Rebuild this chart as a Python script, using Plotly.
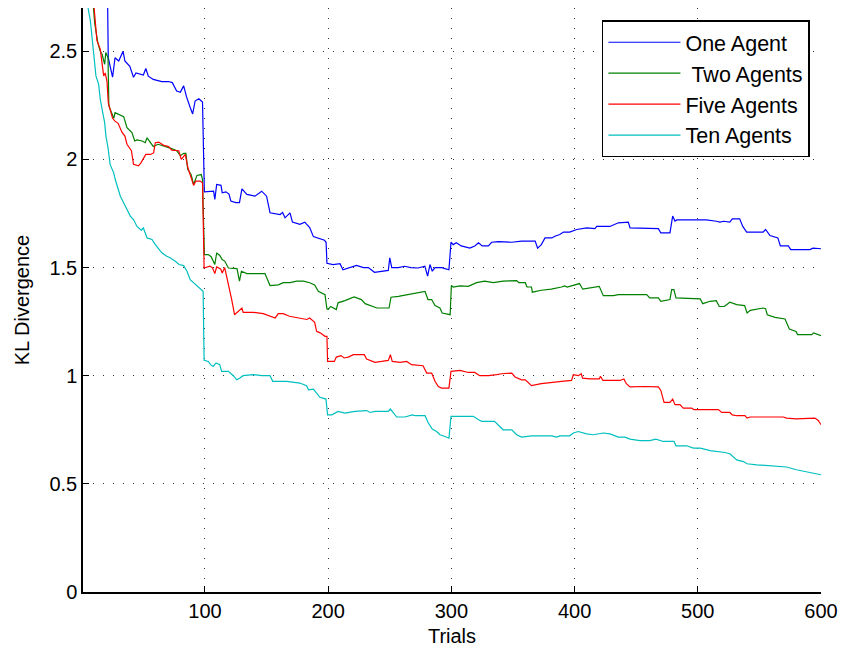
import plotly.graph_objects as go

# Trial numbers and KL divergence for each group size
one_trials = [1, 20, 21.5, 25, 27, 30, 33.5, 35, 39, 42, 44, 50, 52, 54, 58, 65, 70.5, 73.5, 77, 80, 82.7, 85, 88, 90, 92, 95, 98,
              99.5, 107, 108, 109.5, 113, 114, 117, 119.5, 121, 125, 128, 130, 134, 140.6, 146, 150, 152.8, 161, 163, 165, 169,
              171, 177, 181, 185, 188, 193, 197, 198.3, 199, 204, 209.6, 212, 217.6, 223, 228.6, 232.6, 237.6, 240.7, 248.8,
              250, 251.6, 257, 262, 267, 273, 278.5, 280.7, 282.6, 284.5, 286.7, 292, 298, 299.7, 301.5, 304, 308, 315, 319,
              322, 325, 330, 332.7, 338, 349, 357, 368, 370, 373, 376, 381.5, 384, 388, 391, 396, 401.7, 410, 416.5, 418,
              428.7, 435.5, 443.6, 445, 455.8, 468, 470, 477.4, 479.6, 481.5, 483, 507, 515, 518, 521, 526, 528, 534, 536.5,
              539.7, 553, 555, 558.6, 565, 567, 573.5, 575.4, 591, 593.5, 600]
one_kl = [4.8, 3.2, 2.47, 2.38, 2.47, 2.455, 2.50, 2.455, 2.43, 2.38, 2.40, 2.39, 2.42, 2.385, 2.37, 2.36, 2.36, 2.355, 2.316,
          2.31, 2.34, 2.29, 2.24, 2.21, 2.27, 2.28, 2.265,
          1.85, 1.853, 1.815, 1.884, 1.88, 1.846, 1.85, 1.84, 1.807, 1.80, 1.80, 1.864, 1.838, 1.83, 1.853, 1.83, 1.753,
          1.745, 1.755, 1.73, 1.753, 1.71, 1.70, 1.71, 1.685, 1.643, 1.634, 1.626, 1.617, 1.52, 1.514, 1.518, 1.49, 1.50,
          1.51, 1.50, 1.50, 1.478, 1.48, 1.487, 1.545, 1.50, 1.50, 1.506, 1.50, 1.498, 1.506, 1.46, 1.514, 1.483, 1.50,
          1.50, 1.49, 1.617, 1.606, 1.615, 1.60, 1.59, 1.60, 1.614, 1.60, 1.60, 1.617, 1.62, 1.617, 1.622, 1.622, 1.59,
          1.606, 1.637, 1.637, 1.645, 1.653, 1.664, 1.664, 1.676, 1.683, 1.68, 1.69, 1.69, 1.707, 1.71, 1.683, 1.683,
          1.68, 1.66, 1.66, 1.738, 1.715, 1.72, 1.72, 1.714, 1.71, 1.714, 1.71, 1.725, 1.725, 1.69, 1.664, 1.664, 1.676,
          1.648, 1.637, 1.60, 1.60, 1.583, 1.583, 1.59, 1.587]

two_trials = [1, 9.6, 10.5, 13, 15, 16.5, 18.6, 19.5, 21.3, 22, 24, 26, 27, 30, 34, 36.7, 40.7, 43, 44.8, 49, 51.5, 53, 55.7,
              58, 62, 69, 73, 77, 80, 82.7, 84.5, 86, 88.7, 90.8, 93.5, 97, 98, 99.5, 102.7, 105, 108, 109.5, 112, 114, 116,
              119, 123, 126, 128, 129.6, 134, 148.7, 152.8, 159.5, 163.6, 169, 174.4, 180, 185, 189, 192, 197.4, 199, 200,
              202, 205, 206.6, 208, 213.6, 221, 227, 230, 237.5, 239.5, 249.4, 251, 257, 268, 278.6, 281, 284, 286.7, 290.7,
              292.5, 297, 299, 300, 301.5, 307, 313.7, 320.5, 327, 334, 342, 353, 354.7, 360, 361.4, 365, 365.7, 373, 381,
              389.5, 392, 394, 404, 406.6, 412.5, 420, 423.3, 431.4, 435.6, 458.5, 461, 468, 470, 477.4, 478.8, 480.6, 482.3,
              502, 504, 510, 515, 517.4, 521.5, 526, 531.6, 538, 540, 542.6, 553, 555, 556.4, 562.7, 570.8, 574.3, 579.7,
              581, 592.5, 594, 600]
two_kl = [3.3, 2.72, 2.63, 2.54, 2.50, 2.486, 2.44, 2.494, 2.47, 2.247, 2.216, 2.19, 2.216, 2.208, 2.198, 2.147, 2.124, 2.085,
          2.09, 2.085, 2.077, 2.10, 2.077, 2.06, 2.07, 2.059, 2.05, 2.04, 2.017, 2.028, 2.028, 1.954, 1.93, 1.884, 1.926,
          1.93, 1.907, 1.56, 1.56, 1.55, 1.514, 1.568, 1.556, 1.537, 1.53, 1.498, 1.495, 1.495, 1.437, 1.483, 1.472, 1.472,
          1.417, 1.42, 1.43, 1.43, 1.437, 1.437, 1.43, 1.42, 1.39, 1.375, 1.309, 1.306, 1.32, 1.309, 1.306, 1.337, 1.347,
          1.364, 1.352, 1.333, 1.32, 1.313, 1.313, 1.363, 1.367, 1.378, 1.39, 1.352, 1.352, 1.324, 1.313, 1.29, 1.282,
          1.282, 1.417, 1.41, 1.415, 1.413, 1.43, 1.437, 1.43, 1.437, 1.44, 1.43, 1.43, 1.41, 1.41, 1.386, 1.395, 1.40,
          1.41, 1.415, 1.41, 1.426, 1.40, 1.406, 1.413, 1.37, 1.37, 1.375, 1.375, 1.36, 1.36, 1.344, 1.352, 1.398, 1.398,
          1.36, 1.355, 1.333, 1.344, 1.347, 1.32, 1.32, 1.34, 1.329, 1.324, 1.29, 1.302, 1.313, 1.31, 1.282, 1.27, 1.262,
          1.216, 1.205, 1.19, 1.19, 1.198, 1.185]

five_trials = [1, 9.6, 11, 12.3, 15, 17.8, 19, 20.5, 21.5, 23, 25, 27, 29.5, 32.6, 35, 36.7, 40.3, 42, 46, 48, 50, 52, 55.7,
               58.3, 59.7, 62.4, 66.5, 70.5, 73, 75.9, 78.7, 80.8, 84, 86.2, 89, 90.8, 92.6, 96, 98, 99.3, 104, 106, 108,
               109.5, 112.7, 114, 116, 118, 121.7, 124, 127, 130, 131, 139, 147.3, 154, 157, 159.5, 163.5, 168.5, 177, 182.6,
               185, 189, 190.6, 193.5, 197.4, 199, 199.5, 205, 206.6, 210.4, 213, 216.3, 220.4, 229.3, 231.2, 238, 243.4,
               248.8, 250.5, 252, 258.3, 263.7, 267.7, 277, 280, 284, 286.7, 289.4, 292, 298, 299.7, 307, 313.7, 319, 323,
               330, 336.8, 340.8, 349, 351.7, 357, 360, 365, 373, 389.5, 397.5, 399, 403, 405.4, 406.5, 412.5, 420, 421, 423,
               436.9, 440, 442, 445, 457, 468, 470, 472.6, 477.4, 479.6, 481.5, 485.5, 488.2, 495, 497, 516.7, 519.4, 526,
               528, 531.6, 538.3, 540, 542.4, 569.4, 572, 580, 595, 597.8, 600]
five_kl = [3.3, 2.72, 2.63, 2.55, 2.51, 2.386, 2.40, 2.36, 2.262, 2.23, 2.19, 2.177, 2.167, 2.126, 2.108, 2.07, 2.04, 1.977,
           1.97, 1.984, 2.007, 2.023, 2.023, 2.03, 2.077, 2.08, 2.065, 2.059, 2.043, 2.04, 2.04, 2.00, 2.023, 1.96, 1.907,
           1.88, 1.90, 1.90, 1.892, 1.498, 1.506, 1.50, 1.472, 1.503, 1.494, 1.475, 1.50, 1.452, 1.352, 1.282, 1.298,
           1.313, 1.293, 1.293, 1.287, 1.275, 1.267, 1.287, 1.287, 1.275, 1.267, 1.26, 1.267, 1.247, 1.205, 1.198, 1.182,
           1.182, 1.066, 1.066, 1.086, 1.093, 1.082, 1.086, 1.097, 1.097, 1.077, 1.062, 1.066, 1.071, 1.097, 1.066, 1.062,
           1.066, 1.051, 1.046, 1.012, 1.012, 0.974, 0.95, 0.943, 0.943, 1.02, 1.025, 1.015, 1.015, 1.00, 1.00, 1.005,
           1.009, 1.012, 0.994, 0.981, 0.981, 0.954, 0.963, 0.974, 0.978, 1.005, 1.00, 1.009, 0.989, 0.985, 0.985, 0.997,
           0.978, 0.978, 0.985, 0.963, 0.948, 0.95, 0.948, 0.932, 0.877, 0.877, 0.892, 0.866, 0.866, 0.85, 0.85, 0.843,
           0.843, 0.83, 0.83, 0.819, 0.815, 0.815, 0.804, 0.809, 0.809, 0.804, 0.80, 0.804, 0.793, 0.773]

ten_trials = [1, 4.5, 7, 8.8, 10.5, 11.5, 13.7, 15, 17, 18.6, 19.6, 21.3, 23, 25.9, 27.2, 29.4, 31.3, 34, 36.7, 39.4, 42,
              44.8, 48.3, 50, 53, 57, 59.7, 62.7, 65, 69, 71.7, 75.9, 79, 82.7, 85.4, 88, 90.8, 94.3, 97, 98.5, 99.3, 102.7,
              104.5, 106.7, 109, 112, 113.5, 119, 123, 125.8, 128.4, 131, 139.2, 146, 152.8, 155, 166.3, 177, 182.5, 184,
              188, 190.6, 193.3, 198.2, 199.5, 203, 208, 213.6, 221.7, 231.2, 234, 238, 248.8, 250.5, 252.8, 255.6, 262.3,
              268.3, 271, 278.6, 281.3, 284.5, 288, 290.7, 294.8, 298, 299.7, 303, 308.3, 317.8, 322, 324.6, 335, 342, 349,
              353, 357, 365, 381.4, 385.5, 388, 396, 399, 403, 409.8, 415, 423.3, 428.7, 435.5, 440.9, 445, 453, 461, 466,
              472, 480.7, 482.3, 491, 496.4, 502, 510, 518, 522, 526, 529, 531.6, 537, 540, 547.8, 558.6, 566.7, 572, 580,
              587, 593.7, 600]
ten_kl = [3.0, 2.72, 2.64, 2.54, 2.44, 2.386, 2.347, 2.278, 2.216, 2.17, 2.108, 2.054, 1.977, 1.938, 1.907, 1.86, 1.83,
          1.80, 1.768, 1.738, 1.722, 1.69, 1.673, 1.683, 1.637, 1.63, 1.606, 1.583, 1.568, 1.552, 1.545, 1.529, 1.514,
          1.509, 1.483, 1.444, 1.43, 1.413, 1.398, 1.39, 1.071, 1.066, 1.051, 1.043, 1.059, 1.051, 1.02, 1.02, 1.00,
          0.981, 0.989, 1.00, 1.005, 1.00, 1.00, 0.974, 0.974, 0.966, 0.954, 0.935, 0.938, 0.917, 0.90, 0.892, 0.819,
          0.819, 0.835, 0.827, 0.835, 0.839, 0.83, 0.835, 0.835, 0.846, 0.827, 0.809, 0.809, 0.819, 0.815, 0.815, 0.781,
          0.753, 0.742, 0.727, 0.719, 0.711, 0.812, 0.812, 0.81, 0.812, 0.796, 0.789, 0.789, 0.75, 0.75, 0.727, 0.716,
          0.722, 0.722, 0.716, 0.722, 0.722, 0.735, 0.742, 0.731, 0.727, 0.735, 0.731, 0.716, 0.716, 0.707, 0.70, 0.70,
          0.707, 0.696, 0.696, 0.676, 0.676, 0.665, 0.665, 0.654, 0.65, 0.645, 0.639, 0.624, 0.611, 0.603, 0.593, 0.588,
          0.583, 0.58, 0.578, 0.565, 0.557, 0.552, 0.542]

series_names = ["One Agent", "\u00a0Two Agents", "Five Agents", "Ten Agents"]
series_colors = ["#0000FF", "#008000", "#FF0000", "#00BFBF"]

x_tick_vals = [100, 200, 300, 400, 500, 600]
y_tick_vals = [0, 0.5, 1, 1.5, 2, 2.5]
y_tick_text = ["0", "0.5", "1", "1.5", "2", "2.5"]

FONT = "Liberation Sans, Arial, sans-serif"

fig = go.Figure()
for name, color, xs, ys in zip(series_names, series_colors,
                               [one_trials, two_trials, five_trials, ten_trials],
                               [one_kl, two_kl, five_kl, ten_kl]):
    fig.add_trace(go.Scatter(x=xs, y=ys, mode="lines", name=name,
                             line=dict(color=color, width=1.2)))

axis_common = dict(
    showline=True, linecolor="black", linewidth=1.5, mirror=False,
    ticks="inside", ticklen=6, tickcolor="black", tickwidth=1,
    showgrid=True, gridcolor="#333333", gridwidth=1, griddash="1px,9px",
    zeroline=False, automargin=False,
    tickfont=dict(family=FONT, size=20, color="black"),
)

fig.update_xaxes(range=[1, 600], tickvals=x_tick_vals,
                 title=dict(text="Trials", font=dict(family=FONT, size=20, color="black"), standoff=8),
                 **axis_common)
fig.update_yaxes(range=[0, 2.7], tickvals=y_tick_vals, ticktext=y_tick_text,
                 title=dict(text="KL Divergence", font=dict(family=FONT, size=20, color="black"), standoff=14),
                 **axis_common)

fig.update_layout(
    width=841, height=650,
    margin=dict(l=83, r=20, t=8, b=58),
    paper_bgcolor="white", plot_bgcolor="white",
    font=dict(family=FONT, size=20, color="black"),
    legend=dict(x=0.985, y=0.979, xanchor="right", yanchor="top",
                bgcolor="white", bordercolor="black", borderwidth=1.5,
                font=dict(family=FONT, size=21.5, color="black"),
                itemwidth=72, tracegroupgap=0),
    showlegend=True,
)

fig.write_html("out.html")
